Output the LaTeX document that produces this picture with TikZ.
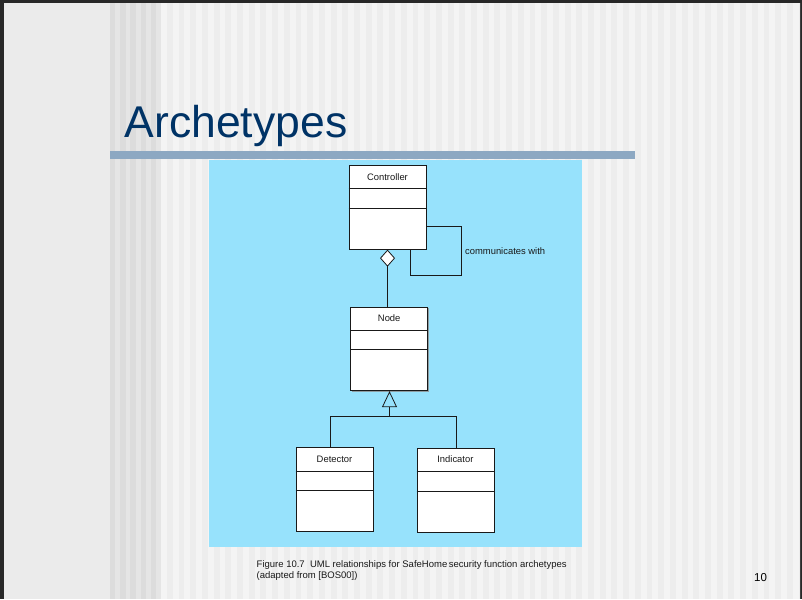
\documentclass[tikz,border=0pt]{standalone}
\usepackage{fontspec}
\setmainfont{Liberation Sans}
\usetikzlibrary{arrows.meta,shadows}
\definecolor{titleblue}{RGB}{0,51,102}
\definecolor{barblue}{RGB}{141,168,194}
\definecolor{cyanbg}{RGB}{151,226,252}
\definecolor{framec}{RGB}{40,40,40}
\definecolor{leftpanel}{RGB}{235,235,235}
\definecolor{darkstripeA}{RGB}{220,220,220}
\definecolor{darkstripeB}{RGB}{229,229,229}
\definecolor{lightstripeA}{RGB}{244,244,244}
\definecolor{lightstripeB}{RGB}{237,237,237}
\definecolor{inkc}{RGB}{25,25,25}
\begin{document}
\begin{tikzpicture}[x=1pt,y=-1pt,
  classbox/.style={draw=inkc, fill=white, line width=0.8pt, inner sep=0pt,
    minimum width=77pt, minimum height=83.5pt,
    drop shadow={shadow xshift=1pt, shadow yshift=-1pt, fill=black!45, opacity=0.8}},
  classname/.style={font=\fontsize{9.4}{11}\selectfont, text=inkc, inner sep=0pt},
  divider/.style={draw=inkc, line width=0.8pt},
  link/.style={draw=inkc, line width=0.8pt},
  smalltext/.style={font=\fontsize{9.4}{11}\selectfont, text=inkc, inner sep=0pt}]
\useasboundingbox (0,0) rectangle (802,599);
% frame and background
\fill[framec] (0,0) rectangle (802,599);
\fill[leftpanel] (4,3) rectangle (110,599);
\fill[darkstripeB] (110,3) rectangle (161,599);
\foreach \i in {0,...,4} \fill[darkstripeA] ({110+\i*10.2},3) rectangle ++(5.4,596);
\fill[lightstripeA] (161,3) rectangle (800,599);
\begin{scope}
\clip (161,3) rectangle (800,599);
\foreach \i in {0,...,55} \fill[lightstripeB] ({161+\i*11.7+5.85},3) rectangle ++(5.85,596);
\end{scope}
% title
\node[anchor=base west, font=\fontsize{44.5}{50}\selectfont, text=titleblue, inner sep=0pt] (title) at (124.5,137.7) {Archetypes};
\fill[barblue] (110,151) rectangle (635,159);
% diagram panel
\fill[cyanbg] (209,160) rectangle (582,547);
% classes
\node[classbox] (ctrl) at (387.5,207.5) {};
\node[classname] (ctrlname) at ([yshift=-12pt]ctrl.north) {Controller};
\draw[divider] ([yshift=-23.5pt]ctrl.north west) -- ([yshift=-23.5pt]ctrl.north east);
\draw[divider] ([yshift=-43pt]ctrl.north west) -- ([yshift=-43pt]ctrl.north east);

\node[classbox] (node) at (389.2,349) {};
\node[classname] (nodename) at ([yshift=-11.5pt]node.north) {Node};
\draw[divider] ([yshift=-23.5pt]node.north west) -- ([yshift=-23.5pt]node.north east);
\draw[divider] ([yshift=-43pt]node.north west) -- ([yshift=-43pt]node.north east);

\node[classbox] (det) at (334.5,489.2) {};
\node[classname] (detname) at ([yshift=-12.5pt]det.north) {Detector};
\draw[divider] ([yshift=-24pt]det.north west) -- ([yshift=-24pt]det.north east);
\draw[divider] ([yshift=-43pt]det.north west) -- ([yshift=-43pt]det.north east);

\node[classbox] (ind) at (455.4,490.5) {};
\node[classname] (indname) at ([yshift=-11pt]ind.north) {Indicator};
\draw[divider] ([yshift=-23.5pt]ind.north west) -- ([yshift=-23.5pt]ind.north east);
\draw[divider] ([yshift=-43pt]ind.north west) -- ([yshift=-43pt]ind.north east);

% aggregation
\draw[link, -{Diamond[open, fill=white, length=17pt, width=15pt]}] (ctrl.south |- node.north) -- (ctrl.south);
% self association
\coordinate (l1) at (461,226.7);
\coordinate (l2) at (410,275);
\draw[link] (ctrl.east |- l1) -- (l1) |- (l2) -- (l2 |- ctrl.south);
\node[smalltext, anchor=west] (cw) at (465,251) {communicates with};
% generalization
\coordinate (j) at (389.5,416.3);
\coordinate (dl) at (330.3,416.3);
\coordinate (ir) at (456,416.3);
\draw[link, -{Triangle[open, length=16pt, width=15pt]}] (j) -- (j |- node.south);
\draw[link] (dl |- det.north) -- (dl) -- (ir) -- (ir |- ind.north);
% caption and page number
\node[anchor=base west, font=\fontsize{9.5}{11.5}\selectfont, text=inkc, inner sep=0pt] (cap1) at (256.5,567.5) {Figure 10.7\ \ UML relationships for SafeHome\,security function archetypes};
\node[anchor=base west, font=\fontsize{9.5}{11.5}\selectfont, text=inkc, inner sep=0pt] (cap2) at (256.5,578.5) {(adapted from [BOS00])};
\node[anchor=base west, font=\fontsize{11.5}{13}\selectfont, text=black, inner sep=0pt] (pg) at (754,581) {10};
\end{tikzpicture}
\end{document}
